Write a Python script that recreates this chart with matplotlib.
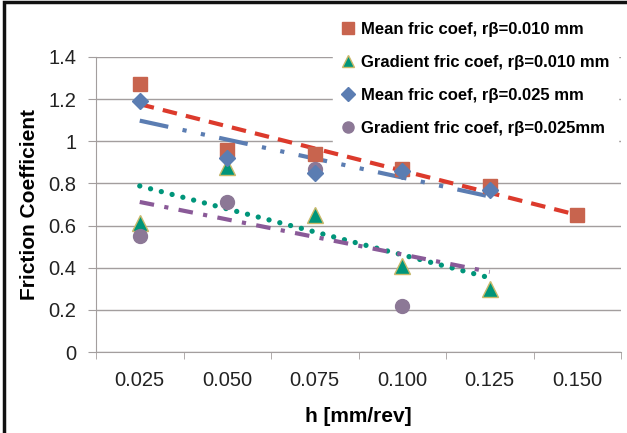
import numpy as np
import matplotlib.pyplot as plt
from matplotlib.lines import Line2D

plt.rcParams['font.family'] = ['Liberation Sans', 'DejaVu Sans']

h_labels = ['0.025', '0.050', '0.075', '0.100', '0.125', '0.150']
mean_010 = [1.27, 0.96, 0.94, 0.87, 0.79, 0.65]
grad_010 = [0.61, 0.88, 0.65, 0.41, 0.30]
mean_025 = [1.19, 0.92, 0.85, 0.86, 0.77]
grad_025 = [0.55, 0.71, 0.87, 0.22]
y_ticks = [0, 0.2, 0.4, 0.6, 0.8, 1.0, 1.2, 1.4]
y_labels = ['0', '0.2', '0.4', '0.6', '0.8', '1', '1.2', '1.4']

labels = ['Mean fric coef, r\u03b2=0.010 mm', 'Gradient fric coef, r\u03b2=0.010 mm',
          'Mean fric coef, r\u03b2=0.025 mm', 'Gradient fric coef, r\u03b2=0.025mm']

c_sq = '#c8644e'
c_tri = '#00957a'
c_dia = '#5b7db2'
c_cir = '#8c7896'
grid_c = '#a39e9e'

fig = plt.figure(figsize=(6.27, 4.33), dpi=100)
ax = fig.add_axes([96/627, 1-352/433, 525/627, 295/433])


def trend(vals, forward=0):
    x = np.arange(len(vals))
    k, b = np.polyfit(x, vals, 1)
    xx = np.array([0, len(vals) - 1 + forward])
    return xx, k * xx + b


lw = 3
x, y = trend(mean_010)
ax.plot(x, y, color='#dc3a2c', lw=lw, dashes=(3.5, 2.2), zorder=3)
x, y = trend(mean_025)
ax.plot(x, y, color=c_dia, lw=lw, dashes=(7, 3.5, 1, 3.5, 1, 3.5), zorder=3)
x, y = trend(grad_010)
l = ax.plot(x, y, color=c_tri, lw=lw + 0.8, dashes=(0.01, 2.1), zorder=3)[0]
l.set_dash_capstyle('round')
x, y = trend(grad_025, forward=1)
ax.plot(x, y, color='#8a5a98', lw=lw, dashes=(3.5, 2.5, 1, 2.5), zorder=3)

ms = 10
h1 = ax.plot(range(len(mean_010)), mean_010, 's', color=c_sq, ms=ms, mec=c_sq, zorder=4)[0]
h2 = ax.plot(range(len(grad_010)), grad_010, '^', color=c_tri, ms=ms + 1, mec='#c9b96a', mew=1, zorder=4)[0]
h3 = ax.plot(range(len(mean_025)), mean_025, 'D', color=c_dia, ms=ms - 1.5, mec=c_dia, zorder=5)[0]
h4 = ax.plot(range(len(grad_025)), grad_025, 'o', color=c_cir, ms=ms, mec=c_cir, zorder=4)[0]

ax.set_xlim(-0.5, 5.5)
ax.set_ylim(0, 1.4)
ax.set_yticks(y_ticks)
ax.set_yticklabels(y_labels)
ax.set_xticks(range(len(h_labels)))
ax.set_xticklabels(h_labels)
ax.set_xticks(np.arange(-0.5, 6, 1), minor=True)
ax.tick_params(axis='x', which='major', length=0, pad=14, labelsize=14.5, labelcolor='#222222')
ax.tick_params(axis='x', which='minor', length=5, color=grid_c, direction='out')
ax.tick_params(axis='y', length=6, color=grid_c, pad=8, labelsize=14.5, labelcolor='#222222')
ax.yaxis.grid(True, color=grid_c, lw=1)
ax.set_axisbelow(True)
for s in ['top', 'right']:
    ax.spines[s].set_visible(False)
for s in ['left', 'bottom']:
    ax.spines[s].set_color(grid_c)

ax.set_ylabel('Friction Coefficient', fontsize=15, fontweight='bold', labelpad=7)
ax.set_xlabel('h [mm/rev]', fontsize=15, fontweight='bold', labelpad=12)

leg = fig.legend([h1, h2, h3, h4], labels, loc='upper left', bbox_to_anchor=(325/627, 1-5/433),
                 frameon=True, fancybox=False, edgecolor='white', facecolor='white', framealpha=1,
                 prop={'weight': 'bold', 'size': 12}, handlelength=0.8, handletextpad=0.35,
                 labelspacing=1.08, borderpad=0.5, markerscale=0.8)

fig.add_artist(plt.Rectangle((4/627, -0.1), 1.2, 1.1 - 2/433, transform=fig.transFigure,
                             fill=False, lw=2.5, ec='#111111'))

fig.savefig('out.png', dpi=100)
